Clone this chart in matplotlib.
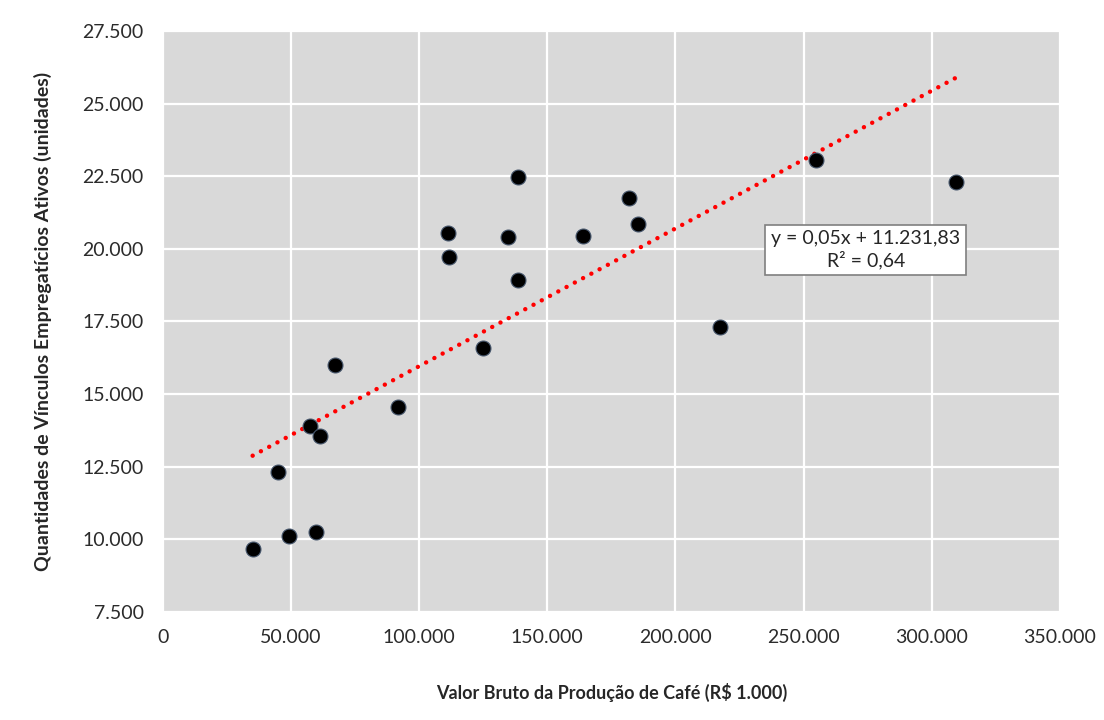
import numpy as np
import matplotlib
matplotlib.use("Agg")
import matplotlib.pyplot as plt
from matplotlib.ticker import FuncFormatter

plt.rcParams['font.family'] = ['Lato', 'DejaVu Sans']

# Valor bruto da producao de cafe (R$ 1.000) x vinculos empregaticios
valor_bruto = [35000, 49000, 59600, 44900, 57300, 61100, 67300, 91900,
               111400, 111700, 125000, 134600, 138400, 138700, 164000,
               182000, 185300, 254900, 309500, 217500]
vinculos = [9660, 10110, 10250, 12320, 13890, 13570, 16010, 14560,
            20540, 19720, 16600, 20400, 22490, 18940, 20440,
            21750, 20870, 23070, 22290, 17300]

x_ticks = [0, 50000, 100000, 150000, 200000, 250000, 300000, 350000]
y_ticks = [7500, 10000, 12500, 15000, 17500, 20000, 22500, 25000, 27500]

eq_text = "y = 0,05x + 11.231,83\nR² = 0,64"


def br_fmt(v, pos):
    return f"{int(round(v)):,}".replace(",", ".")


fig = plt.figure(figsize=(11.04, 7.2), dpi=100)
ax = fig.add_axes([0.1476, 0.15, 0.8124, 0.807])
ax.set_facecolor('#d9d9d9')

# trendline (least squares, like Excel)
slope, intercept = np.polyfit(valor_bruto, vinculos, 1)
xs = np.array([min(valor_bruto), max(valor_bruto)])
ax.plot(xs, slope * xs + intercept, color='#ff0000', lw=3.2,
        linestyle=(0, (0.01, 2.1)), dash_capstyle='round', zorder=2)

ax.scatter(valor_bruto, vinculos, s=115, color='black',
           edgecolors='#44546a', linewidths=0.8, zorder=3)

ax.set_xlim(0, 350000)
ax.set_ylim(7500, 27500)
ax.set_xticks(x_ticks)
ax.set_yticks(y_ticks)
ax.xaxis.set_major_formatter(FuncFormatter(br_fmt))
ax.yaxis.set_major_formatter(FuncFormatter(br_fmt))
ax.grid(True, color='white', lw=1.6)
ax.set_axisbelow(True)
for s in ax.spines.values():
    s.set_visible(False)
ax.tick_params(length=0, labelsize=14, colors='#2b2b2b')
ax.tick_params(axis='x', pad=12)
ax.tick_params(axis='y', pad=14)

ax.set_xlabel("Valor Bruto da Produção de Café (R$ 1.000)", fontsize=13,
              fontweight='bold', color='#262626', labelpad=27)
ax.set_ylabel("Quantidades de Vínculos Empregatícios Ativos (unidades)",
              fontsize=14, fontweight='bold', color='#262626', labelpad=22)

ax.text(274300, 19970, eq_text, ha='center', va='center', fontsize=14,
        color='#262626', linespacing=1.2,
        bbox=dict(boxstyle='square,pad=0.3', fc='white', ec='#7f7f7f', lw=1.2))

fig.savefig("out.png", dpi=100)
